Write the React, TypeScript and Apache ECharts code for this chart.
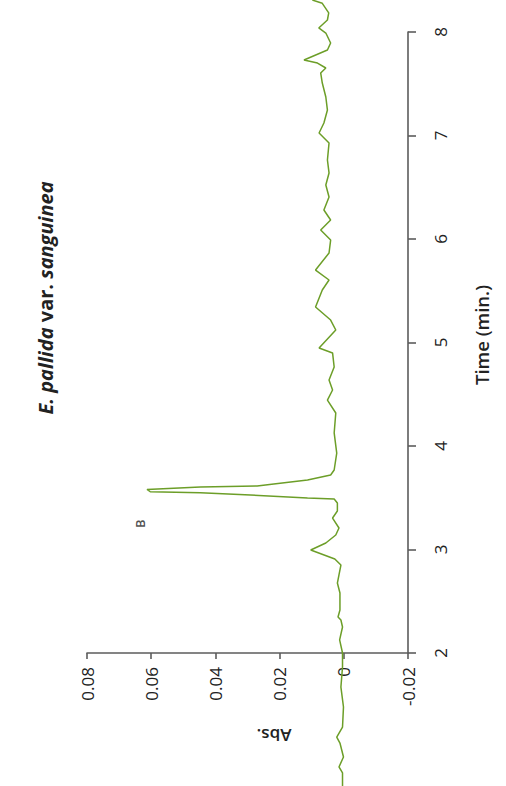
import React, { useEffect, useRef } from "react";
import * as echarts from "echarts";

// Chromatogram trace: retention time (min) and absorbance
const timeMin = [
  0.715, 0.841, 0.899, 0.995, 1.13, 1.188, 1.285, 1.478, 1.671, 1.865,
  2.0, 2.126, 2.251, 2.319, 2.348, 2.415, 2.58, 2.676, 2.754, 2.85,
  2.908, 2.995, 3.063, 3.14, 3.208, 3.304, 3.372, 3.449, 3.488, 3.498,
  3.527, 3.549, 3.558, 3.58, 3.604, 3.614, 3.633, 3.671, 3.72, 3.768,
  3.932, 4.126, 4.319, 4.444, 4.541, 4.638, 4.763, 4.899, 4.947, 5.121,
  5.217, 5.343, 5.507, 5.604, 5.7, 5.865, 5.99, 6.087, 6.184, 6.28,
  6.406, 6.522, 6.638, 6.763, 6.928, 7.024, 7.121, 7.246, 7.372, 7.507,
  7.604, 7.652, 7.7, 7.729, 7.826, 7.894, 7.99, 8.039, 8.116, 8.184,
  8.277, 8.309,
];
const absorbance = [
  0.0004, 0.0004, 0.0015, 0.0001, 0.0012, 0.0022, 0.0004, 0.0001, 0.0009, 0.0004,
  0.0004, 0.0013, 0.0004, 0.0009, 0.0018, 0.0012, 0.0012, 0.002, 0.0015, 0.0009,
  0.0028, 0.0103, 0.0056, 0.0025, 0.0015, 0.0035, 0.002, 0.002, 0.003, 0.0113,
  0.0291, 0.0447, 0.0603, 0.0613, 0.0447, 0.027, 0.0218, 0.0113, 0.0041, 0.003,
  0.0022, 0.003, 0.0025, 0.0051, 0.0035, 0.0046, 0.003, 0.0035, 0.0077, 0.0025,
  0.0041, 0.0088, 0.0067, 0.0046, 0.0088, 0.0046, 0.0041, 0.0072, 0.0041, 0.0062,
  0.0046, 0.0056, 0.0046, 0.0051, 0.0046, 0.0077, 0.0062, 0.0051, 0.0056, 0.0067,
  0.0072, 0.0056, 0.0082, 0.0124, 0.0051, 0.0041, 0.0056, 0.0078, 0.0051, 0.0047,
  0.0067, 0.0098,
];

const absRange = [-0.02, 0.08];
const absStep = 0.02;
const timeRange = [2, 8];
const timeStep = 1;

const peakName = "B";
const peakAbs = [0.0634];
const peakTime = [3.25];

const titleItalic1 = "E. pallida";
const titleRoman = "var.";
const titleItalic2 = "sanguinea";
const absName = "Abs.";
const timeName = "Time (min.)";

const FONT = "'Open Sans', 'Noto Sans', sans-serif";
const TEXT = "#222222";
const AXIS = "#5c5c5c";
const LINE = "#6c9e28";

export default function App() {
  const ref = useRef<HTMLDivElement>(null);

  useEffect(() => {
    if (!ref.current) return;
    const chart = echarts.init(ref.current, undefined, { renderer: "svg" });
    const trace = timeMin.map((t, i) => [absorbance[i], t]);
    const peak = peakTime.map((t, i) => [peakAbs[i], t]);

    chart.setOption({
      animation: false,
      backgroundColor: "#ffffff",
      grid: { left: 87, right: 98, top: 32, bottom: 133, containLabel: false },
      xAxis: {
        type: "value",
        min: absRange[0],
        max: absRange[1],
        interval: absStep,
        inverse: true,
        position: "bottom",
        splitLine: { show: false },
        axisLine: { show: true, onZero: false, lineStyle: { color: AXIS, width: 1.6 } },
        axisTick: { show: true, length: 6, lineStyle: { color: AXIS, width: 1.6 } },
        axisLabel: {
          rotate: 90,
          margin: 14,
          fontSize: 17,
          fontFamily: FONT,
          color: TEXT,
          formatter: (v: number) => (Math.abs(v) < 1e-9 ? "0" : v.toFixed(2)),
        },
      },
      yAxis: {
        type: "value",
        min: timeRange[0],
        max: timeRange[1],
        interval: timeStep,
        position: "right",
        splitLine: { show: false },
        axisLine: { show: true, onZero: false, lineStyle: { color: AXIS, width: 1.6 } },
        axisTick: { show: true, length: 8, lineStyle: { color: AXIS, width: 1.6 } },
        axisLabel: {
          rotate: 90,
          margin: 24,
          fontSize: 17,
          fontFamily: FONT,
          color: TEXT,
          formatter: (v: number) => String(Math.round(v)),
        },
      },
      series: [
        {
          type: "line",
          data: trace,
          clip: false,
          symbol: "none",
          showSymbol: false,
          lineStyle: { color: LINE, width: 1.5 },
          z: 5,
        },
        {
          type: "scatter",
          data: peak,
          symbolSize: 0,
          clip: false,
          label: {
            show: true,
            formatter: peakName,
            position: "inside",
            rotate: 90,
            fontSize: 13,
            fontWeight: 600,
            fontFamily: FONT,
            color: TEXT,
          },
        },
      ],
      graphic: [
        {
          type: "text",
          x: 45,
          y: 298,
          rotation: Math.PI / 2,
          style: {
            text: `{i|${titleItalic1}} {b|${titleRoman}} {i|${titleItalic2}}`,
            align: "center",
            verticalAlign: "middle",
            textAlign: "center",
            textVerticalAlign: "middle",
            fill: TEXT,
            rich: {
              i: { fontStyle: "italic", fontWeight: "bold", fontSize: 20, fontFamily: FONT, fill: TEXT },
              b: { fontWeight: "bold", fontSize: 20, fontFamily: FONT, fill: TEXT },
            },
            fontSize: 20,
            fontWeight: "bold",
            fontFamily: FONT,
          },
        },
        {
          type: "text",
          x: 481,
          y: 335,
          rotation: Math.PI / 2,
          style: {
            text: timeName,
            align: "center",
            verticalAlign: "middle",
            textAlign: "center",
            textVerticalAlign: "middle",
            fill: TEXT,
            fontSize: 18.5,
            fontWeight: 600,
            fontFamily: FONT,
          },
        },
        {
          type: "text",
          x: 274,
          y: 735,
          rotation: Math.PI,
          style: {
            text: absName,
            align: "center",
            verticalAlign: "middle",
            textAlign: "center",
            textVerticalAlign: "middle",
            fill: TEXT,
            fontSize: 17,
            fontWeight: 600,
            fontFamily: FONT,
          },
        },
      ],
    });

    return () => chart.dispose();
  }, []);

  return (
    <div
      ref={ref}
      style={{ position: "fixed", left: 0, top: 0, width: 506, height: 786, background: "#fff" }}
    />
  );
}
